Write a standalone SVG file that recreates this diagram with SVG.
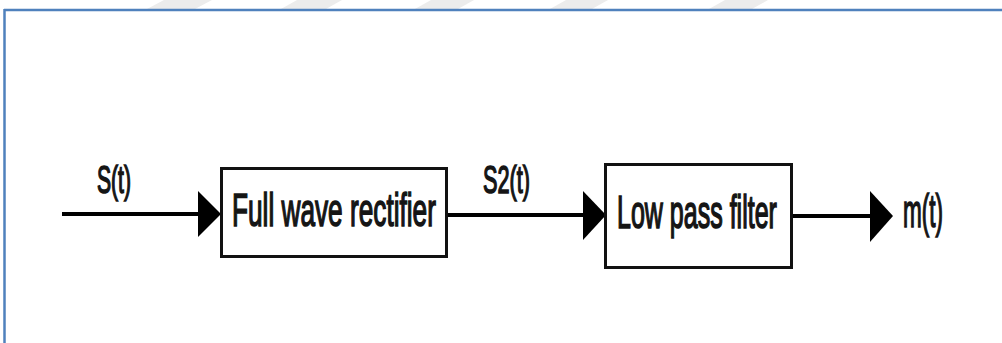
<svg xmlns="http://www.w3.org/2000/svg" width="1002" height="343" viewBox="0 0 1002 343">
  <style>
    .box { fill: #ffffff; stroke: #111111; stroke-width: 3; }
    .wire { stroke: #000000; stroke-width: 4; fill: none; }
    .head { fill: #000000; }
    .lbl { font-family: "Liberation Sans", Arial, sans-serif; font-weight: normal; fill: #151515; stroke: #151515; stroke-width: 1.6; }
    .frame { stroke: #4f81bd; stroke-width: 2.5; fill: none; }
    .stripe { fill: #ececec; }
  </style>

  <rect x="0" y="0" width="1002" height="343" fill="#ffffff"/>

  <!-- faint background stripes above the frame -->
  <g id="stripes">
    <polygon class="stripe" points="147,9 195,9 212,0 164,0"/>
    <polygon class="stripe" points="281,9 326,9 342,0 297,0"/>
    <polygon class="stripe" points="415,9 458,9 474,0 431,0"/>
    <polygon class="stripe" points="550,9 592,9 608,0 566,0"/>
    <polygon class="stripe" points="709,9 752,9 768,0 725,0"/>
  </g>

  <!-- frame -->
  <g id="frame">
    <line class="frame" x1="4" y1="10" x2="1002" y2="10"/>
    <line class="frame" x1="4.5" y1="9" x2="4.5" y2="343"/>
  </g>

  <!-- connectors -->
  <g id="connectors">
    <line class="wire" x1="62" y1="214" x2="200" y2="214"/>
    <polygon class="head" points="198,191 221,214 198,237"/>
    <line class="wire" x1="447" y1="215" x2="585" y2="215"/>
    <polygon class="head" points="583,191 606,215 583,240"/>
    <line class="wire" x1="791" y1="216" x2="872" y2="216"/>
    <polygon class="head" points="870,191 893,216 870,242"/>
  </g>

  <!-- signal labels (condensed lettering) -->
  <g id="labels">
    <text class="lbl" transform="translate(97,193) scale(0.556,1)" font-size="38">S(t)</text>
    <text class="lbl" transform="translate(483,193) scale(0.571,1)" font-size="38">S2(t)</text>
    <text class="lbl" transform="translate(903,227) scale(0.49,1)" font-size="46">m(t)</text>
  </g>

  <g id="rectifier">
    <rect class="box" x="221.5" y="168.5" width="225" height="88"/>
    <text class="lbl" transform="translate(232,226) scale(0.57,1)" font-size="46">Full wave rectifier</text>
  </g>

  <g id="lowpass">
    <rect class="box" x="605.5" y="164.5" width="186" height="103"/>
    <text class="lbl" transform="translate(617,228) scale(0.544,1)" font-size="46">Low pass filter</text>
  </g>
</svg>
